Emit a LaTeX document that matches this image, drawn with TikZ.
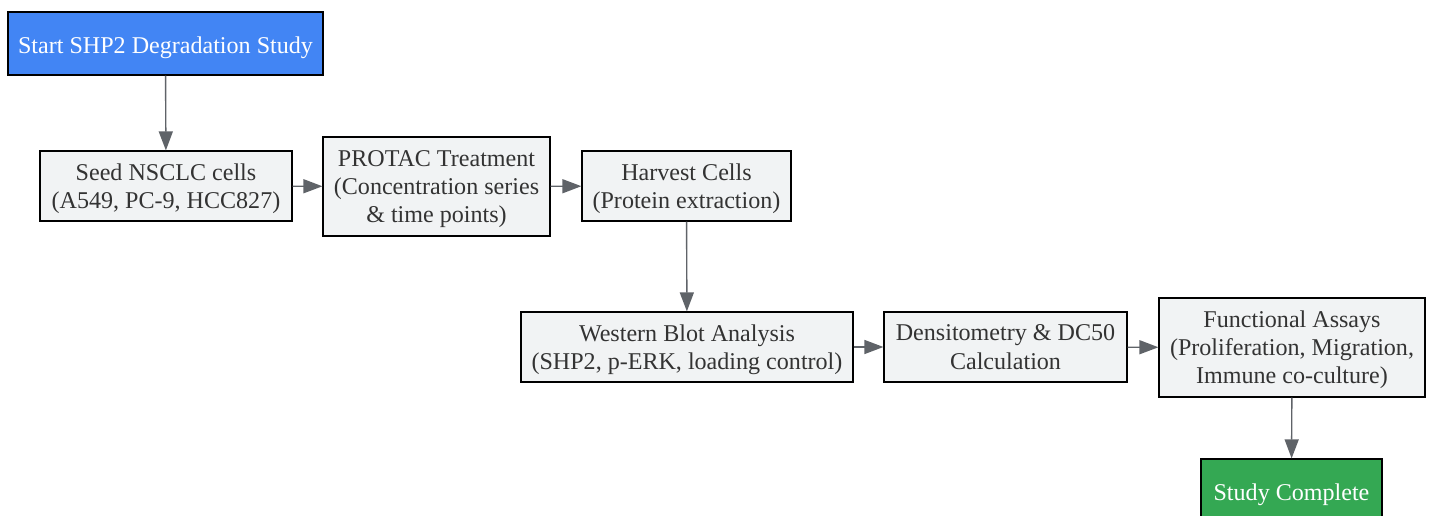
\documentclass[tikz,border=0pt]{standalone}
\usepackage{fontspec}
\setmainfont{Liberation Serif}
\usepackage{xcolor}
\usetikzlibrary{arrows.meta,positioning}

\definecolor{stepfill}{HTML}{F1F3F4}
\definecolor{startblue}{HTML}{4285F4}
\definecolor{endgreen}{HTML}{34A853}
\definecolor{linkgray}{HTML}{5F6368}
\definecolor{textgray}{HTML}{333333}

\begin{document}
\begin{tikzpicture}[
    x=0.02cm, y=-0.02cm,
    >={Triangle[length=0.38cm,width=0.28cm]},
    every node/.style={font=\fontsize{13.7}{16}\selectfont},
    stepbox/.style={draw=black, line width=0.7pt, fill=stepfill, text=textgray, align=center, inner sep=0pt,
        execute at begin node={\rule{0pt}{11pt}}, text depth=-1pt},
    startbox/.style={stepbox, fill=startblue, text=white},
    endbox/.style={stepbox, fill=endgreen, text=white},
    link/.style={->, draw=linkgray, line width=0.8pt}
]
\useasboundingbox (0,0) rectangle (1431,516);
\begin{scope}
\clip (0,0) rectangle (1431,516);

\node[startbox, minimum width=6.3cm, minimum height=1.26cm] (start) at (165.5,43.5) {Start SHP2 Degradation Study};

\node[stepbox, minimum width=5.04cm, minimum height=1.4cm] (seed) at (166,186) {Seed NSCLC cells\\(A549, PC-9, HCC827)};
\node[stepbox, minimum width=4.54cm, minimum height=1.98cm] (protac) at (436.5,186.5) {PROTAC Treatment\\(Concentration series\\\& time points)};
\node[stepbox, minimum width=4.18cm, minimum height=1.4cm] (harvest) at (686.5,186) {Harvest Cells\\(Protein extraction)};

\node[stepbox, minimum width=6.64cm, minimum height=1.4cm] (blot) at (687,347) {Western Blot Analysis\\(SHP2, p-ERK, loading control)};
\node[stepbox, minimum width=4.86cm, minimum height=1.4cm] (dc50) at (1005.5,347) {Densitometry \& DC50\\Calculation};
\node[stepbox, minimum width=5.32cm, minimum height=1.98cm] (assays) at (1292,347.5) {Functional Assays\\(Proliferation, Migration,\\Immune co-culture)};

\node[endbox, minimum width=3.62cm, minimum height=1.26cm] (done) at (1291.5,490.5) {Study Complete};

% main flow
\draw[link] (start) -- (seed);
\draw[link] (seed) -- (protac);
\draw[link] (protac) -- (harvest);
\draw[link] (harvest) -- (blot);
\draw[link] (blot) -- (dc50);
\draw[link] (dc50) -- (assays);
\draw[link] (assays) -- (done);
\end{scope}
\end{tikzpicture}
\end{document}
